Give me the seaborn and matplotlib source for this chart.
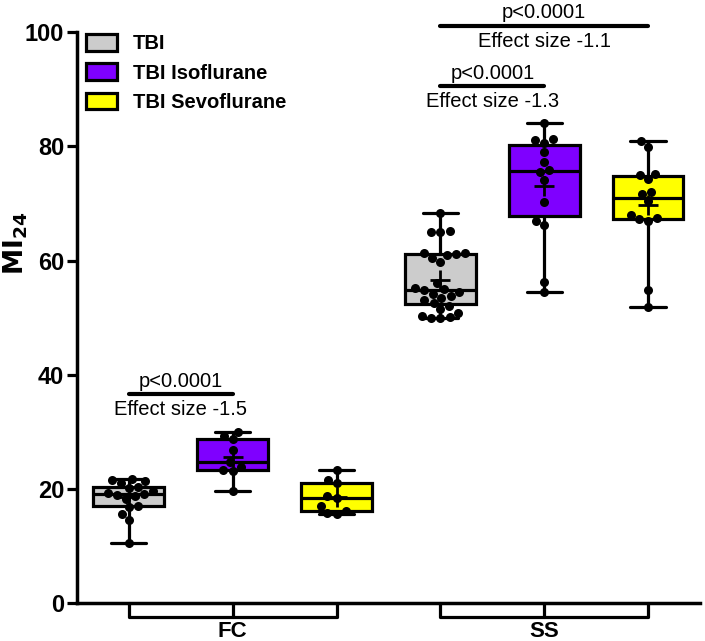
import pandas as pd
import seaborn as sns
import matplotlib.pyplot as plt
from matplotlib.patches import Patch

# groups / regions
groups = ["TBI", "TBI Isoflurane", "TBI Sevoflurane"]
regions = ["FC", "SS"]
colors = ["#cccccc", "#7f00ff", "#ffff00"]

# MI24 values
fc_tbi = [10.5, 14.5, 15.6, 16.8, 17.0, 18.3, 18.8, 19.0, 19.2, 19.3, 19.6, 20.2, 20.4, 21.0, 21.4, 21.6, 21.7]
fc_iso = [19.7, 23.2, 23.4, 23.9, 24.7, 26.8, 28.7, 29.3, 30.0]
fc_sevo = [15.6, 15.8, 16.1, 17.0, 18.5, 18.8, 21.0, 21.6, 23.3]
ss_tbi = [49.9, 50.0, 50.1, 50.2, 50.8, 51.5, 52.0, 52.6, 53.0, 53.5, 53.8, 54.2, 54.5, 54.8,
          55.0, 55.1, 56.0, 59.8, 60.4, 61.0, 61.2, 61.3, 61.4, 65.0, 65.0, 65.2, 68.4]
ss_iso = [54.5, 56.3, 66.3, 67.0, 70.2, 74.1, 75.5, 75.9, 77.3, 79.0, 80.6, 81.1, 81.3, 84.0]
ss_sevo = [51.9, 54.8, 67.0, 67.2, 67.5, 68.0, 70.4, 71.6, 72.0, 74.2, 75.0, 75.2, 79.9, 81.0]

# comparisons: (slot a, slot b, line height, p text, effect text)
comparisons = [
    (0, 1, 36.6, "p<0.0001", "Effect size -1.5"),
    (3, 4, 90.5, "p<0.0001", "Effect size -1.3"),
    (3, 5, 101.1, "p<0.0001", "Effect size -1.1"),
]

values = {
    ("FC", "TBI"): fc_tbi, ("FC", "TBI Isoflurane"): fc_iso, ("FC", "TBI Sevoflurane"): fc_sevo,
    ("SS", "TBI"): ss_tbi, ("SS", "TBI Isoflurane"): ss_iso, ("SS", "TBI Sevoflurane"): ss_sevo,
}
rows = []
for r in regions:
    for g in groups:
        for v in values[(r, g)]:
            rows.append({"slot": f"{r} {g}", "group": g, "MI": v})
df = pd.DataFrame(rows)
slots = [f"{r} {g}" for r in regions for g in groups]

sns.set_style("ticks")
plt.rcParams["font.family"] = ["Liberation Sans", "DejaVu Sans"]
plt.rcParams.update({"text.color": "black", "axes.labelcolor": "black",
                     "xtick.color": "black", "ytick.color": "black",
                     "axes.edgecolor": "black"})

fig = plt.figure(figsize=(7.05, 6.41), dpi=100)
ax = fig.add_axes([0.109, 0.059, 0.884, 0.891])

sns.boxplot(data=df, x="slot", y="MI", hue="group", order=slots, hue_order=groups,
            palette=colors, saturation=1, dodge=False, width=0.68, whis=(0, 100),
            linewidth=2.3, linecolor="black", showmeans=True, legend=False, ax=ax,
            meanprops={"marker": "+", "markeredgecolor": "black", "markersize": 15,
                       "markeredgewidth": 2})
sns.swarmplot(data=df, x="slot", y="MI", order=slots, color="black", size=6.5, ax=ax)

ax.set_xlim(-0.5, 5.5)
ax.set_ylim(0, 100)
ax.set_yticks(range(0, 101, 20))
ax.set_xticks([1, 4])
ax.set_xticklabels(regions, fontsize=16, fontweight="bold")
ax.tick_params(axis="x", length=0, pad=13)
ax.tick_params(axis="y", length=7, width=2.3, labelsize=17, pad=2)
for lab in ax.get_yticklabels():
    lab.set_fontweight("bold")
ax.set_xlabel("")
ax.set_ylabel(r"$\mathbf{MI_{24}}$", fontsize=19)
ax.yaxis.set_label_coords(-0.075, 0.63)
sns.despine(ax=ax)
for s in ["left", "bottom"]:
    ax.spines[s].set_linewidth(2.5)

# brackets under the x axis
for i in range(len(regions)):
    a, m, b = 3 * i, 3 * i + 1, 3 * i + 2
    ax.plot([a, a, b, b], [0, -2.5, -2.5, 0], color="black", lw=2.3, clip_on=False)
    ax.plot([m, m], [0, -2.5], color="black", lw=2.3, clip_on=False)

# significance annotations
for a, b, h, ptxt, etxt in comparisons:
    ax.plot([a, b], [h, h], color="black", lw=3, clip_on=False)
    ax.text((a + b) / 2, h + 1.3, ptxt, ha="center", va="baseline", fontsize=14.5)
    ax.text((a + b) / 2, h - 3.7, etxt, ha="center", va="baseline", fontsize=14.5)

handles = [Patch(facecolor=c, edgecolor="black", linewidth=2.3) for c in colors]
leg = ax.legend(handles, groups, loc="upper left", bbox_to_anchor=(-0.005, 1.018), frameon=False,
                prop={"weight": "bold", "size": 14.5}, handlelength=1.55, handleheight=0.9,
                labelspacing=0.5, handletextpad=0.8, borderaxespad=0.2)

fig.savefig("out.png", dpi=100)
